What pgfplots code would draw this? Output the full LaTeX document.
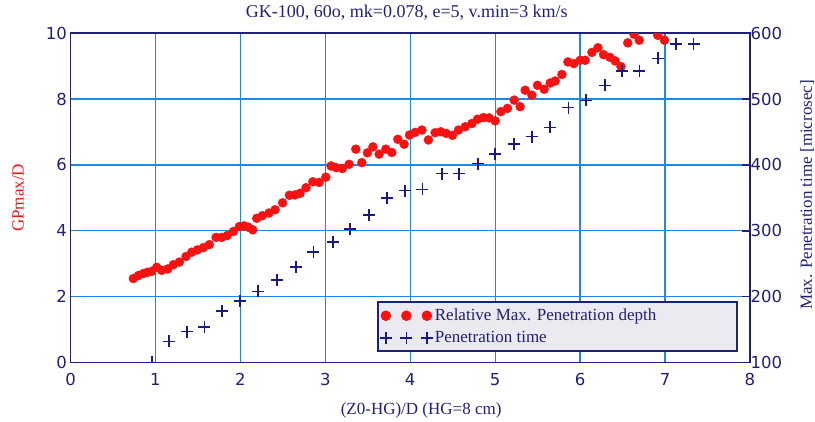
\documentclass[border=0pt]{standalone}
\usepackage{fontspec}
\setmainfont{Liberation Serif}
\newfontfamily\tickfont{DejaVu Sans}
\usepackage{pgfplots}
\pgfplotsset{compat=1.18}
\definecolor{navy}{RGB}{32,32,120}
\definecolor{gridblue}{RGB}{30,136,229}
\definecolor{dotred}{RGB}{245,18,18}
\definecolor{crossblue}{RGB}{25,25,140}
\definecolor{legfill}{RGB}{234,234,240}

\pgfplotstableread{
x y
0.740 2.55
0.799 2.64
0.857 2.70
0.905 2.74
0.956 2.77
1.015 2.89
1.074 2.80
1.145 2.84
1.211 2.97
1.282 3.05
1.360 3.22
1.428 3.35
1.494 3.42
1.564 3.49
1.635 3.58
1.714 3.80
1.781 3.80
1.847 3.86
1.918 3.98
1.988 4.13
2.044 4.15
2.094 4.11
2.146 4.03
2.193 4.38
2.259 4.46
2.338 4.54
2.409 4.64
2.497 4.85
2.577 5.08
2.644 5.09
2.703 5.14
2.774 5.31
2.853 5.49
2.927 5.47
3.006 5.63
3.068 5.97
3.127 5.92
3.201 5.89
3.280 6.02
3.359 6.48
3.430 6.07
3.496 6.37
3.560 6.55
3.634 6.33
3.713 6.48
3.783 6.38
3.854 6.78
3.928 6.63
3.991 6.91
4.058 6.99
4.137 7.06
4.214 6.76
4.293 6.98
4.360 7.01
4.423 6.96
4.497 6.90
4.568 7.06
4.647 7.16
4.726 7.26
4.792 7.39
4.862 7.44
4.929 7.43
5.000 7.34
5.067 7.62
5.145 7.72
5.224 7.97
5.294 7.77
5.353 8.27
5.432 8.12
5.498 8.42
5.577 8.30
5.648 8.49
5.707 8.55
5.786 8.75
5.856 9.13
5.927 9.08
6.001 9.18
6.060 9.18
6.139 9.42
6.210 9.56
6.276 9.35
6.351 9.27
6.413 9.16
6.481 8.99
6.561 9.71
6.634 9.97
6.696 9.79
6.767 10.04
6.846 10.08
6.914 9.94
6.993 9.79
}\depthdata

\pgfplotstableread{
x t
0.963 100
1.160 132
1.369 147
1.576 154
1.781 178
1.996 193
2.205 208
2.429 225
2.653 245
2.860 268
3.088 283
3.292 303
3.516 324
3.724 350
3.940 361
4.144 363
4.372 387
4.576 387
4.796 402
5.000 417
5.224 432
5.432 443
5.648 457
5.863 487
6.066 498
6.292 521
6.492 543
6.698 543
6.920 562
7.130 584
7.336 584
}\timedata

\begin{document}
\begin{tikzpicture}
\useasboundingbox (0pt,0pt) rectangle (815pt,422pt);
\pgfplotsset{
  every axis/.append style={
    at={(70.5pt,59.5pt)}, anchor=south west,
    width=679.5pt, height=329.2pt, scale only axis,
    xmin=0, xmax=8,
    axis line style={navy, line width=1.6pt},
    tick label style={font=\tickfont\fontsize{16.5}{18}\selectfont, text=navy},
    /pgf/number format/assume math mode=true,
    clip marker paths=true,
  },
}
\begin{axis}[
  ymin=0, ymax=10,
  xtick={0,...,8}, ytick={0,2,...,10},
  tick pos=left, major tick length=0pt,
  grid=major, grid style={gridblue, line width=1.3pt},
  xticklabel style={yshift=-7pt},
  yticklabel style={xshift=0pt},
  title={GK-100, 60o, mk=0.078, e=5, v.min=3 km/s},
  every axis title shift=0pt,
  title style={at={(axis description cs:0.495,1.0617)}, anchor=center, yshift=0pt, font=\fontsize{18}{20}\selectfont, text=navy},
  xlabel={(Z0-HG)/D (HG=8 cm)},
  xlabel style={at={(axis description cs:0.516,-0.1443)}, anchor=center, font=\fontsize{17}{20}\selectfont, text=navy},
  ylabel={GPmax/D},
  ylabel style={at={(axis description cs:-0.0773,0.5)}, anchor=center, font=\fontsize{17}{20}\selectfont, text=dotred},
]
\addplot[only marks, mark=*, mark size=4.5pt, color=dotred, mark options={fill=dotred, draw=dotred}] table[x=x, y=y] {\depthdata};
\end{axis}
\begin{axis}[
  ymin=100, ymax=600,
  axis x line=none, axis y line*=right,
  ytick={100,200,...,600},
  major tick length=8pt, tick align=inside,
  tick style={navy, line width=1.4pt},
  yticklabel style={xshift=-3pt},
  ylabel={Max. Penetration time [microsec]},
  ylabel style={at={(axis description cs:1.0839,0.509)}, anchor=center, rotate=0, font=\fontsize{17}{20}\selectfont, text=navy},
  legend image code/.code={\draw[only marks] plot coordinates {(0pt,0pt) (20.5pt,0pt) (41pt,0pt)};},
  legend style={at={(axis cs:3.61,192.9)}, anchor=north west, fill=legfill, draw=navy, line width=1.5pt,
    font=\fontsize{17}{19}\selectfont, text=navy, inner xsep=2pt, inner ysep=5pt, row sep=5pt},
  legend cell align=left,
]
\addlegendimage{only marks, mark=*, mark size=4.5pt, color=dotred, mark options={fill=dotred, draw=none}}
\addlegendentry{\makebox[298pt][l]{Relative Max. Penetration depth}}
\addplot[only marks, mark=+, mark size=6pt, color=crossblue, line width=1.6pt] table[x=x, y=t] {\timedata};
\addlegendentry{\makebox[298pt][l]{Penetration time}}
\end{axis}
\end{tikzpicture}
\end{document}
